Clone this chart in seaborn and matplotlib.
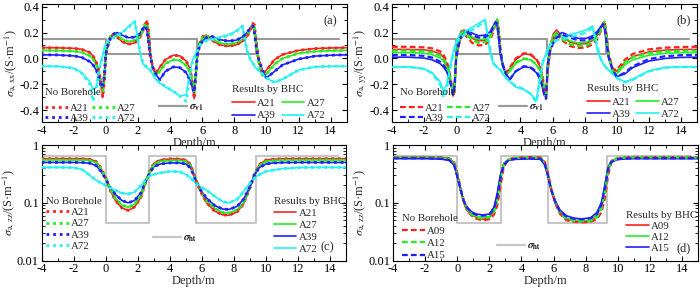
import matplotlib
matplotlib.use("Agg")
import matplotlib.pyplot as plt
import seaborn as sns
from matplotlib.lines import Line2D
from matplotlib.ticker import MultipleLocator, LogLocator, NullFormatter, FixedLocator, FixedFormatter

# ---------------- data ----------------
depth_ab = [-4, -3, -2, -1.5, -1, -0.8, -0.6, -0.45, -0.3, -0.2,
            -0.1, 0, 0.15, 0.3, 0.5, 0.7, 1.0, 1.4, 1.8, 2.1,
            2.3, 2.45, 2.55, 2.65, 2.75, 2.9, 3.1, 3.35, 3.7, 4.2,
            4.6, 5.0, 5.25, 5.4, 5.5, 5.6, 5.7, 5.85, 6.05, 6.25,
            6.6, 7.1, 7.6, 8.1, 8.5, 8.8, 9.0, 9.15, 9.25, 9.35,
            9.5, 9.75, 10.0, 10.5, 11, 12, 13, 14, 15]

# panel (a): sigma_a,xx  (BHC results; no-borehole coincides except A72)
a_A21 = [0.083, 0.082, 0.078, 0.07, 0.045, 0.02, -0.03, -0.09, -0.18, -0.30,
         -0.18, 0.04, 0.13, 0.175, 0.185, 0.165, 0.13, 0.11, 0.12, 0.16,
         0.21, 0.27, 0.29, 0.22, 0.05, -0.06, -0.115, -0.07, -0.01, 0.025,
         0.02, -0.02, -0.08, -0.2, -0.31, -0.12, 0.05, 0.12, 0.17, 0.18,
         0.14, 0.105, 0.095, 0.105, 0.13, 0.17, 0.22, 0.27, 0.26, 0.15,
         0.0, -0.12, -0.09, -0.01, 0.03, 0.062, 0.076, 0.081, 0.083]
a_A27 = [0.062, 0.061, 0.056, 0.047, 0.02, -0.005, -0.05, -0.1, -0.2, -0.25,
         -0.15, 0.04, 0.12, 0.17, 0.19, 0.175, 0.15, 0.13, 0.14, 0.17,
         0.215, 0.26, 0.27, 0.2, 0.05, -0.07, -0.13, -0.1, -0.04, -0.01,
         -0.015, -0.055, -0.11, -0.19, -0.27, -0.12, 0.05, 0.12, 0.165, 0.175,
         0.15, 0.12, 0.11, 0.12, 0.145, 0.18, 0.225, 0.26, 0.24, 0.13,
         -0.02, -0.13, -0.12, -0.045, 0.0, 0.04, 0.054, 0.06, 0.062]
a_A39 = [0.028, 0.027, 0.02, 0.008, -0.025, -0.05, -0.09, -0.14, -0.22, -0.22,
         -0.13, 0.04, 0.11, 0.16, 0.19, 0.2, 0.18, 0.16, 0.165, 0.19,
         0.23, 0.25, 0.22, 0.13, 0.03, -0.06, -0.12, -0.165, -0.1, -0.065,
         -0.07, -0.11, -0.17, -0.23, -0.26, -0.12, 0.03, 0.1, 0.14, 0.16,
         0.17, 0.145, 0.135, 0.14, 0.165, 0.2, 0.24, 0.25, 0.2, 0.1,
         0.0, -0.09, -0.15, -0.1, -0.05, -0.005, 0.018, 0.025, 0.028]
a_A72 = [-0.06, -0.06, -0.075, -0.11, -0.18, -0.24, -0.22, -0.1, -0.02, 0.02,
         0.08, 0.11, 0.14, 0.155, 0.165, 0.18, 0.2, 0.245, 0.285, 0.06,
         -0.04, -0.06, -0.07, -0.08, -0.09, -0.12, -0.16, -0.19, -0.22, -0.255,
         -0.29, -0.28, -0.09, -0.01, 0.01, 0.04, 0.07, 0.11, 0.13, 0.14,
         0.15, 0.165, 0.18, 0.21, 0.25, 0.05, -0.01, -0.04, -0.06, -0.075,
         -0.09, -0.12, -0.15, -0.185, -0.16, -0.09, -0.065, -0.06, -0.06]
a_A72_nb = [-0.06, -0.06, -0.075, -0.115, -0.2, -0.33, -0.24, -0.11, -0.03, 0.01,
            0.07, 0.105, 0.135, 0.15, 0.16, 0.175, 0.195, 0.24, 0.285, 0.07,
            -0.035, -0.055, -0.065, -0.075, -0.085, -0.115, -0.155, -0.185, -0.215, -0.25,
            -0.29, -0.33, -0.12, -0.02, 0.005, 0.035, 0.065, 0.1, 0.125, 0.135,
            0.145, 0.16, 0.175, 0.205, 0.25, 0.06, -0.005, -0.035, -0.055, -0.07,
            -0.09, -0.12, -0.15, -0.185, -0.16, -0.09, -0.065, -0.06, -0.06]

# panel (b): sigma_a,yy
b_A21 = [0.07, 0.07, 0.066, 0.058, 0.035, 0.01, -0.04, -0.1, -0.2, -0.29,
         -0.2, 0.04, 0.15, 0.21, 0.22, 0.19, 0.155, 0.135, 0.14, 0.17,
         0.22, 0.28, 0.29, 0.2, 0.05, -0.05, -0.11, -0.08, -0.01, 0.035,
         0.03, -0.01, -0.07, -0.16, -0.28, -0.3, -0.05, 0.1, 0.19, 0.22,
         0.17, 0.125, 0.11, 0.115, 0.14, 0.18, 0.23, 0.275, 0.27, 0.16,
         0.02, -0.08, -0.1, -0.03, 0.015, 0.05, 0.064, 0.069, 0.07]
b_A21_nb = [0.09, 0.09, 0.086, 0.078, 0.055, 0.03, -0.02, -0.08, -0.19, -0.29,
            -0.25, 0.0, 0.1, 0.17, 0.19, 0.16, 0.12, 0.1, 0.105, 0.14,
            0.2, 0.27, 0.3, 0.24, 0.08, -0.04, -0.11, -0.07, 0.0, 0.04,
            0.035, -0.005, -0.06, -0.15, -0.26, -0.31, -0.1, 0.06, 0.15, 0.19,
            0.14, 0.095, 0.08, 0.085, 0.11, 0.15, 0.21, 0.27, 0.29, 0.2,
            0.04, -0.08, -0.09, -0.01, 0.035, 0.07, 0.083, 0.088, 0.09]
b_A27 = [0.045, 0.045, 0.04, 0.03, 0.005, -0.02, -0.065, -0.12, -0.2, -0.27,
         -0.17, 0.05, 0.15, 0.2, 0.215, 0.195, 0.165, 0.145, 0.15, 0.18,
         0.23, 0.28, 0.28, 0.18, 0.04, -0.06, -0.125, -0.1, -0.04, -0.005,
         -0.01, -0.05, -0.1, -0.18, -0.28, -0.28, -0.03, 0.1, 0.18, 0.2,
         0.17, 0.135, 0.12, 0.125, 0.15, 0.19, 0.235, 0.27, 0.25, 0.14,
         0.0, -0.1, -0.12, -0.05, -0.01, 0.025, 0.039, 0.044, 0.045]
b_A27_nb = [0.06, 0.06, 0.056, 0.047, 0.022, 0.0, -0.05, -0.1, -0.2, -0.28,
            -0.22, 0.02, 0.12, 0.18, 0.2, 0.175, 0.14, 0.12, 0.125, 0.16,
            0.215, 0.28, 0.3, 0.22, 0.07, -0.05, -0.12, -0.09, -0.03, 0.0,
            -0.005, -0.045, -0.1, -0.17, -0.27, -0.31, -0.08, 0.07, 0.16, 0.185,
            0.15, 0.11, 0.095, 0.1, 0.125, 0.165, 0.22, 0.27, 0.285, 0.18,
            0.02, -0.1, -0.11, -0.03, 0.01, 0.042, 0.055, 0.059, 0.06]
b_A39 = [0.01, 0.01, 0.003, -0.01, -0.04, -0.065, -0.1, -0.15, -0.22, -0.26,
         -0.18, 0.04, 0.13, 0.18, 0.205, 0.215, 0.195, 0.175, 0.18, 0.205,
         0.25, 0.28, 0.25, 0.14, 0.03, -0.06, -0.12, -0.16, -0.1, -0.065,
         -0.07, -0.11, -0.17, -0.24, -0.29, -0.27, -0.03, 0.08, 0.14, 0.175,
         0.2, 0.175, 0.155, 0.155, 0.175, 0.21, 0.245, 0.26, 0.22, 0.12,
         0.0, -0.09, -0.14, -0.12, -0.07, -0.02, 0.0, 0.008, 0.01]
b_A39_nb = [0.027, 0.027, 0.02, 0.007, -0.025, -0.05, -0.09, -0.14, -0.22, -0.28,
            -0.22, 0.0, 0.1, 0.16, 0.19, 0.2, 0.18, 0.16, 0.165, 0.19,
            0.24, 0.28, 0.27, 0.17, 0.05, -0.05, -0.12, -0.16, -0.1, -0.06,
            -0.065, -0.1, -0.16, -0.23, -0.29, -0.31, -0.06, 0.06, 0.12, 0.16,
            0.185, 0.16, 0.14, 0.14, 0.16, 0.2, 0.24, 0.265, 0.24, 0.14,
            0.01, -0.09, -0.14, -0.11, -0.06, -0.005, 0.017, 0.025, 0.027]
b_A72 = [-0.065, -0.065, -0.08, -0.11, -0.18, -0.25, -0.2, -0.1, -0.01, 0.04,
         0.09, 0.13, 0.17, 0.19, 0.2, 0.22, 0.24, 0.27, 0.3, 0.05,
         -0.04, -0.06, -0.07, -0.08, -0.09, -0.12, -0.15, -0.18, -0.22, -0.24,
         -0.27, -0.32, -0.1, -0.02, 0.01, 0.04, 0.07, 0.11, 0.14, 0.16,
         0.17, 0.185, 0.2, 0.22, 0.25, 0.06, -0.01, -0.04, -0.06, -0.075,
         -0.09, -0.12, -0.15, -0.18, -0.16, -0.095, -0.07, -0.065, -0.065]
b_A72_nb = [-0.065, -0.065, -0.08, -0.115, -0.2, -0.3, -0.25, -0.12, -0.03, 0.02,
            0.07, 0.11, 0.15, 0.17, 0.18, 0.2, 0.22, 0.25, 0.29, 0.08,
            -0.03, -0.055, -0.065, -0.075, -0.085, -0.115, -0.15, -0.18, -0.21, -0.235,
            -0.27, -0.34, -0.14, -0.03, 0.0, 0.03, 0.06, 0.1, 0.12, 0.14,
            0.15, 0.165, 0.18, 0.2, 0.24, 0.09, 0.0, -0.035, -0.055, -0.07,
            -0.09, -0.12, -0.15, -0.185, -0.165, -0.1, -0.07, -0.065, -0.065]

# model step curves
bed_bounds = [-4, 0, 2.72, 5.65, 9.35, 14.5]
sigma_v1 = [0.15, 0.035, 0.15, 0.035, 0.15, 0.15]
sigma_ht = [0.65, 0.045, 0.65, 0.045, 0.65, 0.65]

# panel (c): sigma_a,zz
depth_c = [-4, -3, -2, -1.5, -1, -0.6, -0.3, 0, 0.3, 0.6,
           1.0, 1.4, 1.8, 2.2, 2.5, 2.75, 3.0, 3.4, 4.0, 4.6,
           5.0, 5.3, 5.6, 5.9, 6.3, 6.8, 7.3, 7.7, 8.2, 8.6,
           9.0, 9.3, 9.6, 10.0, 10.5, 11, 12, 13, 14, 15]
c_A21 = [0.58, 0.58, 0.58, 0.578, 0.57, 0.52, 0.4, 0.27, 0.16, 0.11,
         0.082, 0.074, 0.085, 0.125, 0.23, 0.36, 0.48, 0.55, 0.575, 0.575,
         0.55, 0.46, 0.26, 0.16, 0.1, 0.072, 0.062, 0.061, 0.07, 0.095,
         0.18, 0.32, 0.46, 0.55, 0.57, 0.578, 0.58, 0.58, 0.58, 0.58]
c_A27 = [0.55, 0.55, 0.55, 0.548, 0.54, 0.5, 0.39, 0.27, 0.17, 0.12,
         0.092, 0.084, 0.094, 0.135, 0.235, 0.35, 0.46, 0.52, 0.54, 0.54,
         0.52, 0.44, 0.26, 0.165, 0.108, 0.08, 0.068, 0.067, 0.076, 0.1,
         0.185, 0.32, 0.44, 0.52, 0.54, 0.548, 0.55, 0.55, 0.55, 0.55]
c_A39 = [0.5, 0.5, 0.5, 0.497, 0.485, 0.44, 0.35, 0.26, 0.18, 0.14,
         0.11, 0.1, 0.11, 0.15, 0.24, 0.33, 0.42, 0.47, 0.49, 0.49,
         0.47, 0.4, 0.25, 0.17, 0.12, 0.09, 0.078, 0.077, 0.087, 0.115,
         0.19, 0.31, 0.41, 0.47, 0.49, 0.497, 0.5, 0.5, 0.5, 0.5]
c_A72 = [0.41, 0.41, 0.405, 0.38, 0.3, 0.245, 0.22, 0.2, 0.18, 0.165,
         0.148, 0.142, 0.155, 0.2, 0.25, 0.29, 0.31, 0.33, 0.35, 0.345,
         0.31, 0.27, 0.22, 0.19, 0.165, 0.13, 0.105, 0.1, 0.115, 0.155,
         0.22, 0.27, 0.31, 0.35, 0.37, 0.39, 0.405, 0.41, 0.41, 0.41]

# panel (d): sigma_a,zz, shorter spacings
depth_d = [-4, -3, -2, -1, -0.5, -0.2, 0, 0.2, 0.4, 0.6,
           0.9, 1.2, 1.6, 2.0, 2.3, 2.5, 2.7, 2.9, 3.2, 3.6,
           4.5, 5.2, 5.45, 5.65, 5.85, 6.1, 6.4, 6.8, 7.3, 7.8,
           8.3, 8.7, 9.0, 9.2, 9.4, 9.6, 10, 10.5, 11, 12,
           13, 14, 15]
d_A09 = [0.61, 0.61, 0.61, 0.605, 0.58, 0.5, 0.3, 0.17, 0.1, 0.075,
         0.062, 0.056, 0.052, 0.055, 0.075, 0.13, 0.3, 0.48, 0.57, 0.6,
         0.61, 0.6, 0.48, 0.3, 0.16, 0.1, 0.066, 0.052, 0.048, 0.047,
         0.048, 0.06, 0.1, 0.2, 0.42, 0.54, 0.59, 0.605, 0.61, 0.61,
         0.61, 0.61, 0.61]
d_A12 = [0.6, 0.6, 0.6, 0.595, 0.57, 0.48, 0.29, 0.17, 0.105, 0.078,
         0.065, 0.058, 0.056, 0.058, 0.078, 0.14, 0.31, 0.48, 0.56, 0.59,
         0.6, 0.59, 0.47, 0.3, 0.17, 0.105, 0.07, 0.055, 0.05, 0.049,
         0.05, 0.062, 0.1, 0.2, 0.41, 0.53, 0.58, 0.595, 0.6, 0.6,
         0.6, 0.6, 0.6]
d_A15 = [0.58, 0.58, 0.58, 0.57, 0.54, 0.45, 0.28, 0.17, 0.11, 0.085,
         0.07, 0.064, 0.062, 0.064, 0.085, 0.15, 0.31, 0.46, 0.54, 0.565,
         0.575, 0.565, 0.45, 0.29, 0.17, 0.11, 0.075, 0.06, 0.054, 0.053,
         0.055, 0.068, 0.105, 0.2, 0.4, 0.51, 0.56, 0.575, 0.58, 0.58,
         0.58, 0.58, 0.58]
d_A09_nb = [0.62, 0.62, 0.62, 0.61, 0.59, 0.52, 0.33, 0.19, 0.11, 0.075,
            0.06, 0.053, 0.05, 0.052, 0.063, 0.09, 0.2, 0.42, 0.56, 0.6,
            0.62, 0.61, 0.52, 0.33, 0.18, 0.1, 0.065, 0.05, 0.047, 0.046,
            0.047, 0.052, 0.07, 0.12, 0.3, 0.5, 0.59, 0.615, 0.62, 0.62,
            0.62, 0.62, 0.62]
d_A12_nb = [0.61, 0.61, 0.61, 0.6, 0.58, 0.5, 0.31, 0.18, 0.11, 0.078,
            0.063, 0.056, 0.054, 0.056, 0.07, 0.11, 0.25, 0.45, 0.56, 0.595,
            0.61, 0.6, 0.5, 0.32, 0.18, 0.105, 0.068, 0.053, 0.049, 0.048,
            0.049, 0.056, 0.08, 0.15, 0.35, 0.52, 0.59, 0.605, 0.61, 0.61,
            0.61, 0.61, 0.61]
d_A15_nb = [0.59, 0.59, 0.59, 0.58, 0.55, 0.46, 0.29, 0.175, 0.11, 0.083,
            0.068, 0.062, 0.06, 0.062, 0.08, 0.13, 0.28, 0.45, 0.55, 0.575,
            0.585, 0.575, 0.47, 0.3, 0.17, 0.105, 0.072, 0.058, 0.053, 0.052,
            0.054, 0.064, 0.095, 0.18, 0.38, 0.51, 0.57, 0.585, 0.59, 0.59,
            0.59, 0.59, 0.59]

labels4 = ["A21", "A27", "A39", "A72"]
labels3 = ["A09", "A12", "A15"]

# ---------------- style ----------------
sns.set_theme(style="ticks")
plt.rcParams["font.family"] = ["Liberation Serif", "DejaVu Serif"]
plt.rcParams["mathtext.fontset"] = "stix"
plt.rcParams["axes.unicode_minus"] = False

RED, GREEN, BLUE, CYAN = "#ff1f1f", "#22ee22", "#1f1fff", "#22f2f2"
cols4 = [RED, GREEN, BLUE, CYAN]
cols3 = [RED, GREEN, BLUE]
GRAY1, GRAY2 = "#9a9a9a", "#c6c6c6"
DOT = (0, (1, 1.4))
DASH = (0, (2.6, 1.4))
FS = 7.8
TFS = 9

fig = plt.figure(figsize=(7, 2.87), dpi=100)
W, H = 700.0, 287.0


def mk_axes(x0, x1, y0, y1):
    return fig.add_axes([x0 / W, 1 - y1 / H, (x1 - x0) / W, (y1 - y0) / H])


ax_a = mk_axes(41.7, 346.7, 4, 122)
ax_b = mk_axes(392, 697, 4, 122)
ax_c = mk_axes(41.7, 346, 145, 260.7)
ax_d = mk_axes(393, 698, 145, 260.7)


def line(ax, x, y, color, ls="-", lw=1.2, z=3):
    sns.lineplot(x=x, y=y, ax=ax, color=color, linestyle=ls, linewidth=lw,
                 estimator=None, sort=False, legend=False, zorder=z)


def style_axes(ax, log=False):
    ax.set_xlim(-4, 15)
    ax.xaxis.set_major_locator(MultipleLocator(2))
    ax.xaxis.set_minor_locator(MultipleLocator(1))
    if log:
        ax.set_yscale("log")
        ax.set_ylim(0.01, 1)
        ax.yaxis.set_major_locator(FixedLocator([0.01, 0.1, 1]))
        ax.yaxis.set_major_formatter(FixedFormatter(["0.01", "0.1", "1"]))
        ax.yaxis.set_minor_locator(LogLocator(base=10, subs=range(2, 10)))
        ax.yaxis.set_minor_formatter(NullFormatter())
    else:
        ax.set_ylim(-0.49, 0.42)
        ax.yaxis.set_major_locator(MultipleLocator(0.2))
        ax.yaxis.set_minor_locator(MultipleLocator(0.1))
        ax.yaxis.set_major_formatter(plt.FormatStrFormatter("%.1f"))
    ax.tick_params(which="both", direction="in", top=True, right=True,
                   labelsize=TFS, pad=2, color="black", labelcolor="black")
    ax.tick_params(which="major", length=3.5, width=0.8)
    ax.tick_params(which="minor", length=2, width=0.6)
    for s in ax.spines.values():
        s.set_linewidth(0.8)
        s.set_color("black")
    ax.set_xlabel("Depth/m", fontsize=TFS, labelpad=0)


def legend(ax, hs, labels, title, anchor, ncol=1, loc="upper left",
           colsp=0.4, lsp=0.0, hl=2.1, tsep=None):
    if ncol == 2:  # fill row by row: A21 A27 / A39 A72
        order = [0, 2, 1, 3]
        hs = [hs[i] for i in order]
        labels = [labels[i] for i in order]
    leg = ax.legend(hs, labels, title=title, loc=loc, bbox_to_anchor=anchor,
                    ncol=ncol, frameon=False, fontsize=FS, title_fontsize=FS,
                    handlelength=hl, handletextpad=0.2, columnspacing=colsp,
                    labelspacing=lsp, borderaxespad=0, borderpad=0,
                    alignment="left")
    if tsep is not None:
        leg._legend_box.sep = tsep
    ax.add_artist(leg)
    return leg


def handles(colors, ls, lw):
    return [Line2D([], [], color=c, linestyle=ls, linewidth=lw) for c in colors]


def ylab(ax, comp):
    ax.set_ylabel(r"$\sigma_{\rm a,\,%s}$/(S·m$^{-1}$)" % comp, fontsize=8.8, labelpad=0)


# ---------------- panel (a) ----------------
sns.lineplot(x=bed_bounds, y=sigma_v1, ax=ax_a, color=GRAY1, linewidth=1.5,
             drawstyle="steps-post", estimator=None, sort=False, legend=False, zorder=2)
a_bhc = [a_A21, a_A27, a_A39, a_A72]
a_nb = [a_A21, a_A27, a_A39, a_A72_nb]
for y, c in zip(a_bhc, cols4):
    line(ax_a, depth_ab, y, c, "-", 1.2, 3)
for y, c in zip(a_nb, cols4):
    line(ax_a, depth_ab, y, c, DOT, 2.0, 4)
style_axes(ax_a)
ylab(ax_a, "xx")
legend(ax_a, handles(cols4, DOT, 2.0), labels4, "No Borehole", (0.01, 0.285),
       ncol=2, colsp=0.3, lsp=0.05, tsep=4)
legend(ax_a, handles(cols4, "-", 1.2), labels4, "Results by BHC", (0.625, 0.31),
       ncol=2, colsp=0.5, lsp=0.25, tsep=3)
legend(ax_a, [Line2D([], [], color=GRAY1, lw=1.5)], [r"$\sigma_{\rm v1}$"], None,
       (0.385, 0.12), loc="center left", hl=2.6)
ax_a.text(0.945, 0.85, "(a)", transform=ax_a.transAxes, ha="center", va="center", fontsize=TFS)

# ---------------- panel (b) ----------------
sns.lineplot(x=bed_bounds, y=sigma_v1, ax=ax_b, color=GRAY1, linewidth=1.5,
             drawstyle="steps-post", estimator=None, sort=False, legend=False, zorder=2)
b_bhc = [b_A21, b_A27, b_A39, b_A72]
b_nb = [b_A21_nb, b_A27_nb, b_A39_nb, b_A72_nb]
for y, c in zip(b_bhc, cols4):
    line(ax_b, depth_ab, y, c, "-", 1.2, 3)
for y, c in zip(b_nb, cols4):
    line(ax_b, depth_ab, y, c, DASH, 1.6, 4)
style_axes(ax_b)
ylab(ax_b, "yy")
legend(ax_b, handles(cols4, DASH, 1.6), labels4, "No Borehole", (0.027, 0.285),
       ncol=2, colsp=0.3, lsp=0.05, tsep=4)
legend(ax_b, handles(cols4, "-", 1.2), labels4, "Results by BHC", (0.64, 0.32),
       ncol=2, colsp=0.5, lsp=0.25, tsep=3)
legend(ax_b, [Line2D([], [], color=GRAY1, lw=1.5)], [r"$\sigma_{\rm v1}$"], None,
       (0.35, 0.12), loc="center left", hl=2.6)
ax_b.text(0.955, 0.86, "(b)", transform=ax_b.transAxes, ha="center", va="center", fontsize=TFS)

# ---------------- panel (c) ----------------
sns.lineplot(x=bed_bounds, y=sigma_ht, ax=ax_c, color=GRAY2, linewidth=1.5,
             drawstyle="steps-post", estimator=None, sort=False, legend=False, zorder=2)
c_all = [c_A21, c_A27, c_A39, c_A72]
for y, c in zip(c_all, cols4):
    line(ax_c, depth_c, y, c, "-", 1.2, 3)
for y, c in zip(c_all, cols4):
    line(ax_c, depth_c, y, c, DOT, 2.0, 4)
style_axes(ax_c, log=True)
ylab(ax_c, "zz")
legend(ax_c, handles(cols4, DOT, 2.0), labels4, "No Borehole", (0.015, 0.55), lsp=0.15)
legend(ax_c, handles(cols4, "-", 1.2), labels4, "Results by BHC", (0.762, 0.55), lsp=0.22)
legend(ax_c, [Line2D([], [], color=GRAY2, lw=1.5)], [r"$\sigma_{\rm ht}$"], None,
       (0.365, 0.19), loc="center left", hl=2.6)
ax_c.text(0.937, 0.12, "(c)", transform=ax_c.transAxes, ha="center", va="center", fontsize=TFS)

# ---------------- panel (d) ----------------
sns.lineplot(x=bed_bounds, y=sigma_ht, ax=ax_d, color=GRAY2, linewidth=1.5,
             drawstyle="steps-post", estimator=None, sort=False, legend=False, zorder=2)
d_bhc = [d_A09, d_A12, d_A15]
d_nb = [d_A09_nb, d_A12_nb, d_A15_nb]
for y, c in zip(d_bhc, cols3):
    line(ax_d, depth_d, y, c, "-", 1.2, 3)
for y, c in zip(d_nb, cols3):
    line(ax_d, depth_d, y, c, DASH, 1.6, 4)
style_axes(ax_d, log=True)
ylab(ax_d, "zz")
legend(ax_d, handles(cols3, DASH, 1.6), labels3, "No Borehole", (0.03, 0.40), lsp=0.25)
legend(ax_d, handles(cols3, "-", 1.2), labels3, "Results by BHC", (0.765, 0.43), lsp=0.12)
legend(ax_d, [Line2D([], [], color=GRAY2, lw=1.5)], [r"$\sigma_{\rm ht}$"], None,
       (0.34, 0.12), loc="center left", hl=2.6)
ax_d.text(0.952, 0.11, "(d)", transform=ax_d.transAxes, ha="center", va="center", fontsize=TFS)

fig.savefig("out.png", dpi=100)
